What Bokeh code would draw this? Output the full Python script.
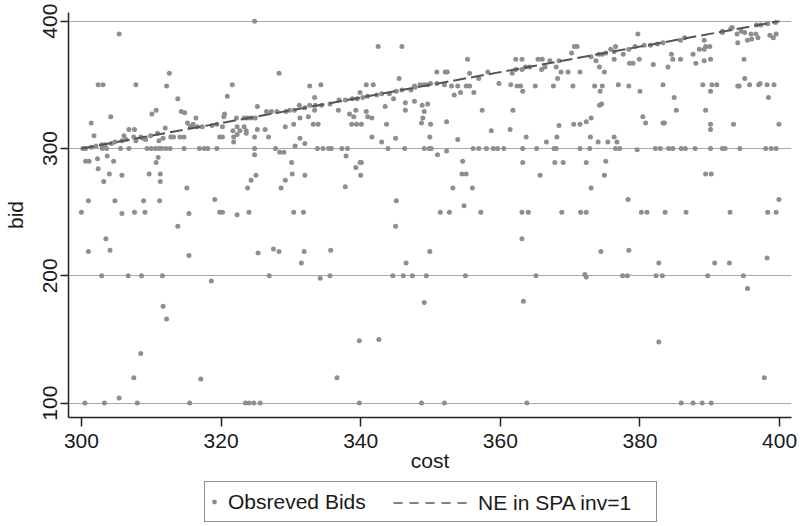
from bokeh.plotting import figure
from bokeh.layouts import column
from bokeh.models import Range1d, FixedTicker, Legend, LegendItem
from bokeh.embed import file_html
from bokeh.resources import INLINE

FONT = "Liberation Sans"

cost = [
    305.4, 302.4, 303.1, 307.8, 312.2, 312.6, 313.8, 310.7, 310.1, 314.3,
    314.8, 304.2, 301.4, 301.8, 316.4, 315.2, 316.0, 315.6, 318.7, 319.4,
    320.4, 320.5, 320.2, 315.8, 316.6, 317.3, 306.8, 307.6, 312.0, 306.1,
    307.5, 307.8, 308.5, 308.8, 309.2, 309.9, 310.9, 311.7, 311.1, 312.8,
    313.2, 314.1, 314.7, 300.6, 301.4, 302.1, 302.9, 303.4, 304.3, 304.8,
    305.8, 306.4, 300.2, 303.0, 303.6, 305.6, 306.8, 309.4, 310.0, 310.6,
    311.1, 311.5, 312.1, 312.7, 314.7, 316.9, 317.6, 318.1, 319.4, 300.6,
    301.1, 302.3, 302.4, 303.2, 304.0, 304.6, 305.8, 303.7, 310.7, 311.0,
    309.7, 311.3, 311.3, 315.1, 319.1, 301.0, 304.8, 308.9, 311.2,
    # lower left
    300.0, 305.8, 307.6, 309.1, 315.4, 319.8, 320.2, 313.8, 303.5, 301.0,
    304.1, 315.4, 302.9, 306.7, 308.6, 311.6, 318.6, 311.7, 312.2, 308.5,
    307.5, 317.1, 305.4, 300.5, 303.3, 308.0, 315.5,
    # 320-348 upper
    324.8, 342.5, 345.9, 328.3, 321.6, 332.7, 334.3, 340.8, 341.8, 345.5,
    347.7, 320.9, 333.4, 339.9, 325.2, 326.5, 327.2, 328.0, 329.3, 329.8,
    330.5, 331.2, 332.0, 332.7, 333.5, 334.4, 335.6, 336.9, 337.8, 338.8,
    339.5, 340.3, 341.0, 342.3, 343.0, 344.1, 345.1, 345.9, 347.2, 347.8,
    322.2, 323.3, 323.8, 324.3, 324.9, 321.7, 322.3, 322.7, 323.3, 323.6,
    323.6, 322.3, 321.8, 321.8, 319.8, 320.2, 324.8, 325.2, 326.3, 326.8,
    329.2, 330.4, 331.3, 332.5, 333.4, 333.2, 333.9, 331.3, 330.6, 332.0,
    336.8, 338.4, 339.0, 339.3, 338.7, 339.4, 340.1, 340.8, 341.6, 341.0,
    343.5, 343.7, 344.7, 346.4, 346.4, 347.7, 341.6, 343.0, 345.0, 324.8,
    327.8, 328.4, 329.0, 324.8, 333.8, 334.6, 335.4, 335.8, 337.3, 338.1,
    337.9, 343.9, 346.3, 330.1, 330.2, 332.0, 339.3, 339.9, 340.1, 340.0,
    325.0, 324.3, 323.8, 329.2, 328.6, 337.8, 345.1,
    # 320-348 lower
    322.3, 324.0, 330.4, 331.8, 345.0, 325.3, 327.5, 328.3, 331.9, 331.5,
    335.7, 346.5, 326.9, 334.2, 335.6, 344.6, 346.1, 347.4, 339.8, 342.6,
    336.6, 323.5, 324.0, 324.7, 325.6, 339.8,
    # 348-375 upper
    370.6, 371.0, 370.2, 355.3, 362.2, 363.1, 365.4, 366.0, 367.1, 368.4,
    373.0, 373.7, 374.2, 374.9, 350.9, 352.1, 352.4, 355.6, 358.2, 361.7,
    362.2, 363.1, 363.6, 364.2, 365.9, 366.4, 368.0, 368.7, 369.7, 371.4,
    348.5, 349.1, 349.6, 350.0, 350.9, 352.0, 353.0, 353.9, 353.4, 354.3,
    355.1, 355.6, 356.2, 356.9, 359.8, 361.5, 362.4, 362.9, 363.2, 365.0,
    367.6, 368.2, 370.4, 373.5, 374.6, 374.3, 348.8, 349.1, 348.9, 348.7,
    349.6, 350.0, 349.9, 352.3, 353.9, 357.4, 358.7, 361.4, 361.8, 363.7,
    366.6, 368.1, 368.4, 370.5, 371.4, 372.3, 373.0, 374.0, 372.9, 374.2,
    374.5, 349.1, 349.8, 350.1, 351.0, 352.3, 356.1, 356.9, 358.0, 359.0,
    359.6, 360.5, 363.2, 365.2, 367.7, 368.0, 371.4, 372.8, 354.6, 354.5,
    355.1, 363.2, 365.7, 367.8, 369.0, 372.3, 374.9, 353.2, 356.0, 373.0,
    354.8,
    # 348-375 lower
    351.4, 352.7, 357.2, 363.1, 364.0, 368.8, 371.5, 372.3, 363.1, 349.9,
    374.4, 349.4, 355.0, 365.1, 372.1, 372.3, 349.1, 363.3, 348.7, 352.0,
    363.8,
    # 375-400 upper
    396.7, 397.3, 398.3, 399.4, 379.7, 391.8, 391.8, 393.0, 393.2, 393.9,
    394.5, 395.0, 395.9, 396.6, 395.4, 396.0, 396.9, 394.0, 398.6, 399.1,
    399.5, 374.1, 374.6, 375.1, 375.8, 376.5, 376.3, 377.6, 378.4, 379.3,
    380.6, 381.5, 382.5, 383.3, 385.8, 386.4, 387.6, 388.0, 388.5, 389.2,
    389.4, 390.0, 389.2, 390.1, 389.2, 384.5, 384.7, 385.8, 381.9, 378.5,
    379.0, 379.9, 384.0, 394.9, 376.3, 376.9, 378.4, 380.0, 383.3, 384.9,
    385.2, 380.4, 380.8, 383.3, 383.5, 389.0, 389.4, 390.1, 390.3, 391.0,
    390.1, 390.1, 393.4, 394.0, 394.2, 395.0, 395.7, 397.0, 397.2, 398.2,
    398.4, 399.2, 399.9, 375.4, 376.3, 376.7, 376.5, 377.1, 379.6, 382.2,
    382.9, 384.1, 384.7, 385.9, 386.5, 387.9, 390.1, 391.8, 392.2, 394.3,
    398.0, 398.8, 399.5, 375.1, 389.4, 390.2, 378.3, 399.9,
    # 375-400 lower
    380.2, 381.0, 383.6, 386.6, 392.9, 398.3, 399.5, 378.4, 382.7, 390.7,
    392.8, 398.2, 377.5, 378.2, 382.3, 383.2, 389.7, 394.8, 395.4, 382.7,
    397.8, 385.9, 387.6, 388.9, 390.2,
]

bid = [
    390, 350, 350, 350, 349, 359, 339, 330, 327, 329,
    328, 325, 320, 310, 324, 320, 319, 317, 318, 319,
    325, 327, 317, 317, 317, 317, 315, 315, 316, 310,
    309, 306, 309, 308, 307, 310, 312, 308, 306, 309,
    309, 309, 309, 300, 301, 302, 303, 303, 304, 305,
    306, 307, 300, 300, 300, 300, 300, 300, 300, 300,
    300, 300, 300, 300, 300, 300, 300, 300, 300, 290,
    290, 292, 284, 274, 280, 290, 279, 294, 289, 293,
    280, 280, 274, 269, 260, 259, 259, 259, 259,
    # lower left
    250, 249, 250, 250, 249, 250, 250, 239, 229, 219,
    220, 216, 200, 200, 200, 200, 196, 176, 166, 139,
    120, 119, 104, 100, 100, 100, 100,
    # 320-348 upper
    400, 380, 380, 359, 350, 349, 350, 350, 350, 355,
    349, 341, 340, 344, 333, 329, 329, 329, 329, 330,
    330, 334, 332, 334, 334, 334, 335, 338, 338, 339,
    339, 340, 341, 342, 343, 343, 345, 346, 346, 348,
    324, 324, 324, 324, 324, 314, 317, 314, 317, 314,
    312, 311, 309, 305, 309, 309, 309, 315, 315, 309,
    317, 319, 324, 325, 330, 319, 319, 308, 302, 304,
    330, 327, 325, 330, 319, 319, 319, 329, 324, 325,
    333, 319, 339, 336, 330, 337, 309, 305, 308, 300,
    300, 297, 297, 295, 300, 300, 300, 300, 300, 300,
    294, 300, 300, 289, 280, 279, 285, 289, 289, 279,
    279, 275, 269, 275, 269, 270, 259,
    # 320-348 lower
    248, 250, 250, 250, 239, 218, 221, 219, 219, 210,
    220, 210, 200, 198, 200, 200, 200, 200, 149, 150,
    120, 100, 100, 100, 100, 100,
    # 348-375 upper
    380, 380, 375, 370, 370, 370, 370, 370, 369, 369,
    372, 369, 364, 360, 360, 360, 360, 359, 360, 359,
    362, 362, 364, 364, 362, 364, 364, 360, 360, 360,
    350, 350, 350, 351, 351, 350, 349, 349, 342, 344,
    349, 349, 344, 355, 351, 350, 349, 349, 345, 349,
    349, 355, 349, 349, 349, 345, 334, 329, 324, 320,
    335, 319, 309, 321, 307, 330, 314, 315, 330, 309,
    305, 309, 318, 319, 319, 321, 324, 305, 309, 334,
    335, 300, 300, 300, 295, 298, 300, 300, 300, 300,
    300, 300, 300, 300, 300, 300, 300, 300, 290, 280,
    280, 289, 279, 289, 289, 289, 279, 269, 269, 269,
    255,
    # 348-375 lower
    250, 250, 250, 250, 250, 250, 250, 250, 229, 219,
    219, 200, 200, 200, 201, 199, 179, 180, 100, 100,
    100,
    # 375-400 upper
    397, 397, 398, 399, 390, 392, 391, 394, 395, 390,
    392, 391, 390, 390, 385, 386, 387, 383, 389, 387,
    390, 374, 374, 375, 378, 380, 376, 374, 378, 380,
    381, 381, 382, 383, 385, 387, 374, 367, 378, 378,
    380, 380, 385, 370, 369, 374, 370, 370, 366, 367,
    367, 370, 364, 370, 370, 350, 349, 345, 350, 340,
    330, 325, 320, 320, 320, 350, 330, 345, 350, 350,
    319, 315, 319, 349, 349, 355, 350, 350, 351, 350,
    340, 350, 319, 305, 309, 305, 300, 300, 299, 300,
    300, 300, 300, 300, 300, 300, 300, 300, 300, 300,
    300, 300, 300, 290, 280, 280, 260, 260,
    # 375-400 lower
    250, 250, 250, 250, 250, 250, 250, 220, 210, 210,
    210, 214, 200, 200, 200, 200, 200, 200, 190, 148,
    120, 100, 100, 100, 100,
]

# Nash equilibrium line in the second-price auction (bid = cost)
ne_cost = [300, 400]
ne_bid = [300, 400]

x_ticks = [300, 320, 340, 360, 380, 400]
y_ticks = [100, 200, 300, 400]

DOT = "#8e8e8e"
DASH_COLOR = "#555555"

p = figure(width=802, height=481, output_backend="svg", toolbar_location=None,
           x_range=Range1d(298.15, 401.7), y_range=Range1d(88.7, 406.8),
           min_border_left=68, min_border_right=11, min_border_top=12,
           min_border_bottom=64, background_fill_color="white",
           border_fill_color="white")
p.outline_line_color = None

p.xgrid.visible = False
p.ygrid.ticker = FixedTicker(ticks=y_ticks)
p.ygrid.grid_line_color = "#a8a8a8"
p.ygrid.grid_line_width = 1.2

p.xaxis.ticker = FixedTicker(ticks=x_ticks)
p.yaxis.ticker = FixedTicker(ticks=y_ticks)
p.xaxis.axis_label = "cost"
p.yaxis.axis_label = "bid"
for ax in (p.xaxis, p.yaxis):
    ax.axis_line_color = "#222222"
    ax.axis_line_width = 1.5
    ax.major_tick_line_color = "#222222"
    ax.major_tick_line_width = 1.5
    ax.major_tick_in = 0
    ax.minor_tick_line_color = None
    ax.major_label_text_font = FONT
    ax.major_label_text_font_size = "21px"
    ax.major_label_text_color = "#1a1a1a"
    ax.axis_label_text_font = FONT
    ax.axis_label_text_font_size = "21px"
    ax.axis_label_text_font_style = "normal"
    ax.axis_label_text_color = "#1a1a1a"
p.xaxis.major_tick_out = 9
p.xaxis.major_label_standoff = 7
p.xaxis.axis_label_standoff = -2
p.yaxis.major_tick_out = 8
p.yaxis.major_label_standoff = 3
p.yaxis.major_label_orientation = "vertical"
p.yaxis.axis_label_standoff = 14

p.scatter(cost, bid, size=5, fill_color=DOT, line_color=None)
p.line(ne_cost, ne_bid, line_color=DASH_COLOR, line_width=2, line_dash="13 5")

# Legend strip below the plot (its frame is aligned with the plot frame);
# the key renderers reuse the data but fall outside this strip's ranges.
lg = figure(width=802, height=45, output_backend="svg", toolbar_location=None,
            x_range=Range1d(0, 1), y_range=Range1d(0, 1),
            x_axis_type=None, y_axis_type=None,
            min_border_left=0, min_border_right=0, min_border_top=0,
            min_border_bottom=0, background_fill_color="white",
            border_fill_color="white")
lg.outline_line_color = None
lg.grid.visible = False
dots_key = lg.scatter(cost, bid, size=5, fill_color=DOT, line_color=None)
line_key = lg.line(ne_cost, ne_bid, line_color=DASH_COLOR, line_width=1.5,
                   line_dash="9 7")

leg_a = Legend(items=[LegendItem(label="Obsreved Bids", renderers=[dots_key])],
               location=(136, 4), orientation="horizontal", margin=0,
               padding=3, spacing=0, glyph_width=12, glyph_height=33,
               label_height=33, label_width=425, label_standoff=8,
               border_line_color="#222222", border_line_width=1,
               background_fill_color="white", background_fill_alpha=1,
               label_text_font=FONT, label_text_font_size="21px",
               label_text_color="#1a1a1a")
leg_b = Legend(items=[LegendItem(label="NE in SPA inv=1", renderers=[line_key])],
               location=(322, 4), orientation="horizontal", margin=0,
               padding=3, spacing=0, glyph_width=74, glyph_height=33,
               label_height=33, label_standoff=11,
               border_line_alpha=0, background_fill_alpha=0,
               label_text_font=FONT, label_text_font_size="21px",
               label_text_color="#1a1a1a")
lg.add_layout(leg_a)
lg.add_layout(leg_b)

layout = column(p, lg, spacing=0)
open("out.html", "w").write(file_html(layout, INLINE))
